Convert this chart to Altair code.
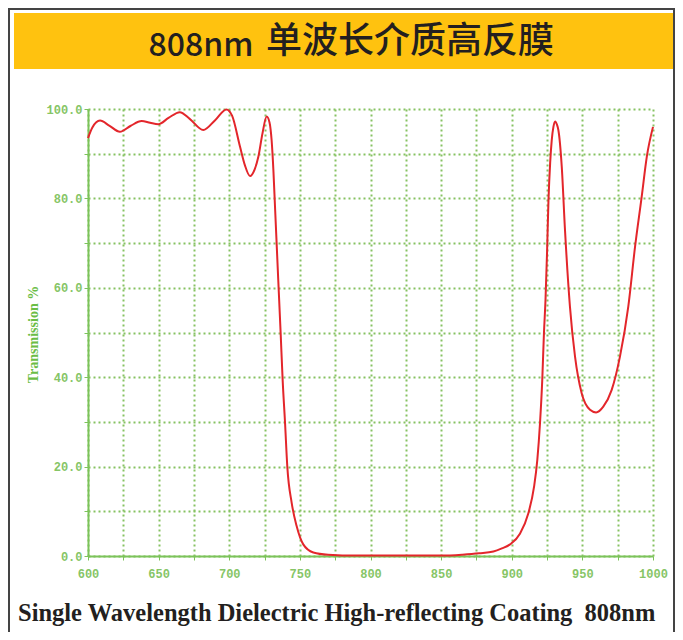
import altair as alt
import pandas as pd

# Wavelength (nm) and transmission (%)
wavelength = [600, 603, 608.5, 615, 622.6, 630, 638, 644, 649.8, 657, 665, 672, 681.6, 690, 698, 702,
              707.6, 711, 714.7, 718, 720.6, 723.5, 726.5, 728.5, 730, 731.3, 732.4, 734.7, 736.4, 737.8,
              739.5, 741.1, 744.2, 747.7, 752.4, 759.5, 770, 790, 820, 850, 865, 877, 887, 893, 898.8,
              905.8, 911.7, 915.8, 918.1, 920, 921.6, 922.8, 923.9, 925, 926, 927.2, 928.3, 929.5, 930.7,
              932, 933, 935.4, 937.7, 941.2, 944.8, 949.5, 955.4, 959.7, 964.8, 970.7, 976.6, 982.5,
              987.3, 992, 995.6, 1000]
transmission = [93.5, 95.8, 97.4, 96.3, 94.9, 96.2, 97.3, 96.9, 96.6, 98.0, 99.3, 97.8, 95.3, 97.5, 99.9, 98.5,
                91.6, 87.5, 85.0, 86.5, 89.3, 94.5, 98.3, 97.0, 93.0, 86.0, 78.1, 61.7, 49.8, 39.4,
                29.8, 20.0, 11.9, 6.7, 2.6, 0.8, 0.3, 0.1, 0.1, 0.1, 0.3, 0.6, 1.0, 1.7, 2.6,
                5.0, 9.5, 15.5, 21.5, 29.7, 39.4, 49.9, 57.3, 68.0, 79.6, 88.0, 93.0, 96.0, 97.2,
                96.5, 95.3, 87.1, 72.9, 55.8, 44.6, 36.4, 32.7, 32.1, 33.4, 37.1, 44.6, 55.8,
                69.2, 80.4, 89.3, 96.0]

x_ticks = list(range(600, 1001, 25))
y_ticks = list(range(0, 101, 10))

title_num = "808nm"
title_cn = "单波长介质高反膜"
caption = "Single Wavelength Dielectric High-reflecting Coating\u00a0\u00a0808nm"
y_title = "Transmission %"

df = pd.DataFrame({"wl": wavelength, "t": transmission})
one = pd.DataFrame({"a": [0]})

GRID = "#86C262"
AXIS = "#7CC35A"
LABEL = "#86C566"

line = alt.Chart(df).mark_line(color="#E3262B", strokeWidth=2, interpolate="monotone").encode(
    x=alt.X("wl:Q", scale=alt.Scale(domain=[600, 1000], nice=False, zero=False),
            axis=alt.Axis(values=x_ticks, title=None,
                          labelExpr="datum.value % 50 == 0 ? datum.value : ''",
                          grid=True, gridColor=GRID, gridDash=[2, 3], gridWidth=2,
                          domainColor=AXIS, domainWidth=2, tickColor=AXIS, tickSize=4,
                          labelColor=LABEL, labelFont="Liberation Mono", labelFontSize=12,
                          labelFontWeight="bold", labelPadding=8, labelFlush=False)),
    y=alt.Y("t:Q", scale=alt.Scale(domain=[0, 100], nice=False),
            axis=alt.Axis(values=y_ticks, title=y_title,
                          labelExpr="datum.value % 20 == 0 ? format(datum.value, '.1f') : ''",
                          grid=True, gridColor=GRID, gridDash=[2, 3], gridWidth=2,
                          domainColor=AXIS, domainWidth=2, tickColor=AXIS, tickSize=4,
                          labelColor=LABEL, labelFont="Liberation Mono", labelFontSize=12,
                          labelFontWeight="bold", labelPadding=2, labelFlush=False,
                          titleColor="#6ABD45", titleFont="Liberation Serif", titleFontSize=14,
                          titleFontWeight="bold", titleX=-55, titleY=225, titleAngle=270,
                          titleAlign="center", titleBaseline="middle")),
)

bar = alt.Chart(one).mark_rect(color="#FFC20F").encode(
    x=alt.value(-74), x2=alt.value(587), y=alt.value(-96), y2=alt.value(-40))

t1 = alt.Chart(one).mark_text(text=title_num, font="Noto Sans CJK SC", fontSize=32, fontWeight=500,
                              color="#231F20", align="center", baseline="alphabetic").encode(
    x=alt.value(113), y=alt.value(-53))
t2 = alt.Chart(one).mark_text(text=title_cn, font="Noto Sans CJK SC", fontSize=36, fontWeight=500,
                              color="#231F20", align="center", baseline="alphabetic").encode(
    x=alt.value(322), y=alt.value(-56))

cap = alt.Chart(one).mark_text(text=caption, font="Liberation Serif", fontSize=24.5, fontWeight="bold",
                               color="#231F20", align="left", baseline="alphabetic").encode(
    x=alt.value(-70), y=alt.value(512))

left_border = alt.Chart(one).mark_rule(color="#444444", strokeWidth=2).encode(
    x=alt.value(-79), y=alt.value(-101), y2=alt.value(523))
top_border = alt.Chart(one).mark_rule(color="#444444", strokeWidth=2).encode(
    x=alt.value(-80), x2=alt.value(587), y=alt.value(-100))
right_border = alt.Chart(one).mark_rule(color="#444444", strokeWidth=2).encode(
    x=alt.value(586), y=alt.value(-101), y2=alt.value(523))

chart = alt.layer(bar, t1, t2, cap, left_border, top_border, right_border, line).properties(
    width=565, height=447,
    autosize=alt.AutoSizeParams(type="none"),
    padding={"left": 80, "top": 101, "right": 22, "bottom": 76},
    background="white",
).configure_view(stroke=None)

chart.save("out.html", embed_options={"renderer": "svg", "actions": False})
